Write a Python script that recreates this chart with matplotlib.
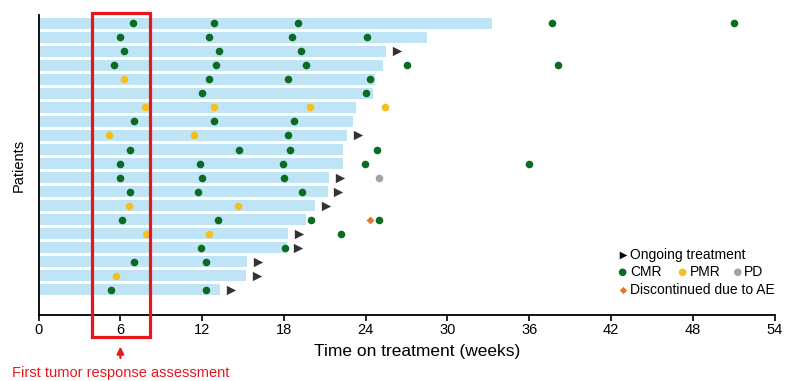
import matplotlib
matplotlib.use('Agg')
import matplotlib.pyplot as plt
from matplotlib.patches import Rectangle

plt.rcParams['font.family'] = ['Liberation Sans', 'DejaVu Sans']

# Patients from top (1) to bottom (20), time on treatment in weeks
patients = list(range(1, 21))
bar_end = [33.3, 28.5, 25.5, 25.3, 24.7, 24.5, 23.3, 23.1, 22.6, 22.3,
           22.3, 21.3, 21.2, 20.3, 19.6, 18.3, 18.2, 15.3, 15.2, 13.3]

# patients still on treatment
ongoing = [3, 9, 12, 13, 14, 16, 17, 18, 19, 20]

# complete metabolic response assessments
cmr_patient = [1, 1, 1, 1, 1,
               2, 2, 2, 2,
               3, 3, 3,
               4, 4, 4, 4, 4,
               5, 5, 5,
               6, 6,
               8, 8, 8,
               9,
               10, 10, 10, 10,
               11, 11, 11, 11, 11,
               12, 12, 12,
               13, 13, 13,
               15, 15, 15, 15,
               16,
               17, 17,
               18, 18,
               20, 20]
cmr_week = [6.9, 12.9, 19.05, 37.7, 51.0,
            6.0, 12.5, 18.6, 24.1,
            6.3, 13.2, 19.25,
            5.55, 13.0, 19.6, 27.05, 38.1,
            12.5, 18.3, 24.35,
            12.0, 24.05,
            7.0, 12.9, 18.75,
            18.3,
            6.7, 14.7, 18.45, 24.8,
            6.0, 11.85, 17.9, 23.95, 35.95,
            6.0, 12.0, 18.0,
            6.7, 11.7, 19.35,
            6.15, 13.15, 20.0, 25.0,
            22.2,
            11.9, 18.05,
            7.0, 12.3,
            5.3, 12.3]

# partial metabolic response
pmr_patient = [5, 7, 7, 7, 7, 9, 9, 14, 14, 16, 16, 19]
pmr_week = [6.3, 7.8, 12.9, 19.9, 25.4, 5.15, 11.4, 6.6, 14.6, 7.85, 12.5, 5.7]

# progressive disease
pd_patient = [12]
pd_week = [25.0]

# discontinued due to adverse event
ae_patient = [15]
ae_week = [24.3]

xticks = [0, 6, 12, 18, 24, 30, 36, 42, 48, 54]

green = '#0b6b20'
yellow = '#f6bf1c'
grey = '#a3a3a3'
orange = '#e5772f'
dark = '#333333'
red = '#e8161c'

fig = plt.figure(figsize=(7.88, 3.81), dpi=100)
ax = fig.add_axes([0.049, 0.173, 0.934, 0.787])

ax.barh(patients, bar_end, height=0.8, color='#bfe4f5', zorder=1)

arrow_x = [bar_end[p - 1] + 0.8 for p in ongoing]
ax.scatter(arrow_x, ongoing, marker='>', s=45, color=dark, zorder=3, linewidths=0)
ax.scatter(cmr_week, cmr_patient, marker='o', s=30, color=green, zorder=3, linewidths=0)
ax.scatter(pmr_week, pmr_patient, marker='o', s=30, color=yellow, zorder=3, linewidths=0)
ax.scatter(pd_week, pd_patient, marker='o', s=30, color=grey, zorder=3, linewidths=0)
ax.scatter(ae_week, ae_patient, marker='D', s=16, color=orange, zorder=3, linewidths=0)

ax.set_xlim(0, 54)
ax.set_ylim(21.8, 0.43)
ax.set_xticks(xticks)
ax.set_yticks([])
ax.tick_params(axis='x', direction='out', length=4, width=1.2, labelsize=10.5, pad=1.5)
for s in ['top', 'right']:
    ax.spines[s].set_visible(False)
ax.spines['left'].set_linewidth(1.3)
ax.spines['bottom'].set_linewidth(1.3)
ax.set_xlabel('Time on treatment (weeks)', fontsize=12.5, labelpad=3)
ax.xaxis.set_label_coords(0.514, -0.098)
ax.set_ylabel('Patients', fontsize=10.5, labelpad=9)

# red box around first assessment window
ax.add_patch(Rectangle((3.9, 0.27), 4.3, 23.1, fill=False, edgecolor=red,
                       linewidth=2.3, clip_on=False, zorder=4))
ax.annotate('', xy=(6, 23.85), xytext=(6, 25.05),
            arrowprops=dict(arrowstyle='-|>', color=red, lw=1.6, mutation_scale=10),
            annotation_clip=False)
ax.text(6, 25.95, 'First tumor response assessment', color=red, fontsize=10.5,
        ha='center', va='center', clip_on=False)

# legend
ax.scatter([42.85], [17.5], marker='>', s=30, color='black', linewidths=0, zorder=5)
ax.text(43.4, 17.5, 'Ongoing treatment', fontsize=10, va='center')
ax.scatter([42.85, 47.25, 51.3], [18.75, 18.75, 18.75], marker='o', s=30,
           color=[green, yellow, grey], linewidths=0, zorder=5)
ax.text(43.4, 18.75, 'CMR', fontsize=10, va='center')
ax.text(47.75, 18.75, 'PMR', fontsize=10, va='center')
ax.text(51.75, 18.75, 'PD', fontsize=10, va='center')
ax.scatter([42.85], [20.0], marker='D', s=14, color=orange, linewidths=0, zorder=5)
ax.text(43.4, 20.0, 'Discontinued due to AE', fontsize=10, va='center')

fig.savefig('out.png', dpi=100)
